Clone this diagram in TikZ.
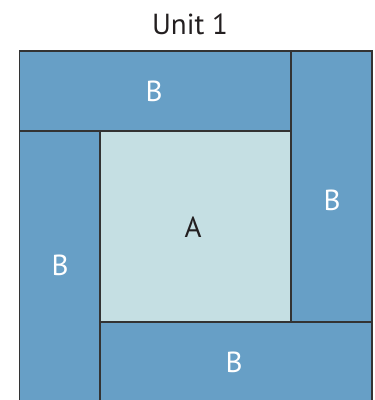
\documentclass[tikz,border=0pt]{standalone}
\usepackage{fontspec}
\setmainfont{PT Sans}
\definecolor{blockB}{HTML}{679FC6}
\definecolor{blockA}{HTML}{C5DFE3}
\definecolor{edge}{HTML}{333333}
\definecolor{ink}{HTML}{231F20}
\tikzset{
  pieceB/.style={fill=blockB, draw=edge, line width=1.3pt},
  pieceA/.style={fill=blockA, draw=edge, line width=1.3pt},
  labelB/.style={text=white, font=\fontsize{29}{34}\selectfont},
  labelA/.style={text=ink, font=\fontsize{29}{34}\selectfont}
}
\begin{document}
\begin{tikzpicture}[x=1pt, y=-1pt]
  \useasboundingbox (0,0) rectangle (375,400);
  \clip (0,0) rectangle (375,400);

  % Title
  \node[labelA] (title) at (190,24) {Unit 1};

  % Center square
  \draw[pieceA] (100,131) rectangle (291,322);
  \node[labelA] (lblA) at (193,227) {A};

  % Top strip
  \draw[pieceB] (19.5,51) rectangle (291,131);
  \node[labelB] (lblTop) at (154,91) {B};

  % Right strip
  \draw[pieceB] (291,51) rectangle (372,322);
  \node[labelB] (lblRight) at (332,200) {B};

  % Bottom strip
  \draw[pieceB] (100,322) rectangle (372,403);
  \node[labelB] (lblBottom) at (234,362) {B};

  % Left strip
  \draw[pieceB] (19.5,131) rectangle (100,403);
  \node[labelB] (lblLeft) at (60,265) {B};
\end{tikzpicture}
\end{document}
